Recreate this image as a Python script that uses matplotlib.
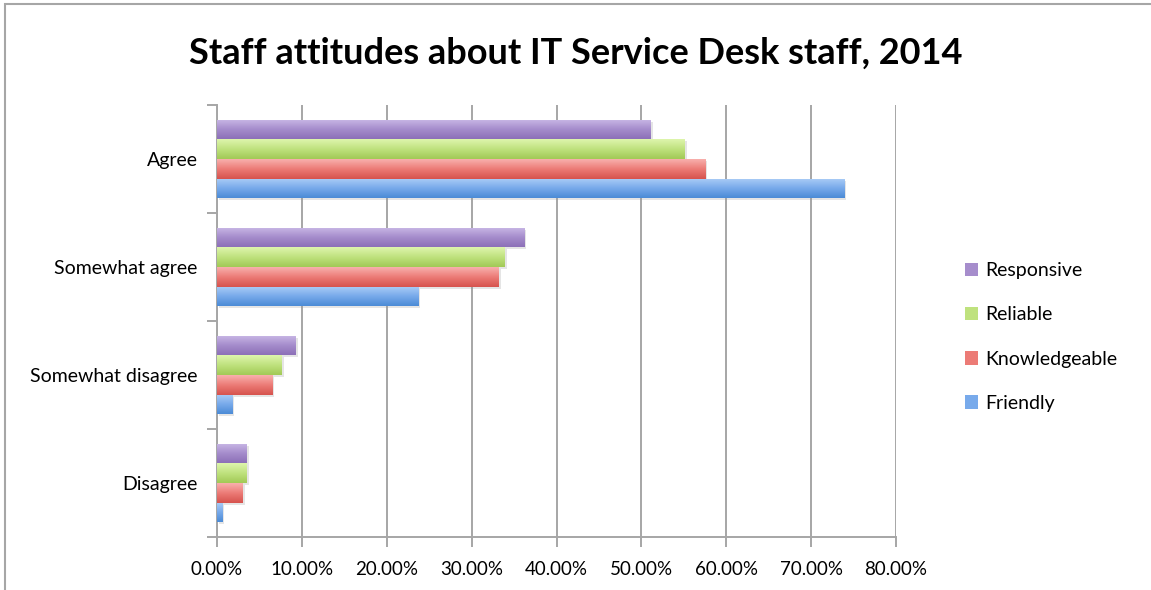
import matplotlib
matplotlib.use("Agg")
import matplotlib.pyplot as plt
import numpy as np
from matplotlib.colors import LinearSegmentedColormap
from matplotlib.patches import Patch, Rectangle
from matplotlib import patheffects as pe
from matplotlib.ticker import PercentFormatter, MultipleLocator, FixedLocator

plt.rcParams["font.family"] = ["Lato", "DejaVu Sans"]

categories = ["Agree", "Somewhat agree", "Somewhat disagree", "Disagree"]
series = ["Responsive", "Reliable", "Knowledgeable", "Friendly"]

responsive = [51.1, 36.2, 9.3, 3.5]
reliable = [55.1, 33.9, 7.6, 3.5]
knowledgeable = [57.5, 33.2, 6.5, 3.0]
friendly = [73.9, 23.7, 1.8, 0.6]

# (top, middle, bottom) shades for the vertical gradient on each bar
shades = {
    "Responsive": ("#c9b8e6", "#a68dcc", "#8c70b8"),
    "Reliable": ("#def5ad", "#bfe27e", "#a2c956"),
    "Knowledgeable": ("#f8b0ad", "#ec7b76", "#d6534e"),
    "Friendly": ("#abcdf6", "#78aaeb", "#4b8bd6"),
}

values = {"Responsive": responsive, "Reliable": reliable,
          "Knowledgeable": knowledgeable, "Friendly": friendly}

fig = plt.figure(figsize=(11.51, 5.90), dpi=100)
ax = fig.add_axes([217 / 1151, 1 - 537 / 590, (896 - 217) / 1151, (537 - 105) / 590])

n = len(categories)
ypos = np.arange(n)[::-1]  # Agree on top
h = 0.1815
offsets = {"Responsive": 1.5 * h, "Reliable": 0.5 * h,
           "Knowledgeable": -0.5 * h, "Friendly": -1.5 * h}

grad = np.linspace(0, 1, 64).reshape(-1, 1)
for name in series:
    top, mid, bot = shades[name]
    cmap = LinearSegmentedColormap.from_list(name, [bot, mid, top])
    bars = ax.barh(ypos + offsets[name], values[name], height=h,
                   color=mid, edgecolor="none", zorder=3,
                   path_effects=[pe.SimplePatchShadow(offset=(1.5, -1.5),
                                                      shadow_rgbFace="#999999",
                                                      alpha=0.25),
                                 pe.Normal()])
    for bar in bars:
        x0, y0 = bar.get_x(), bar.get_y()
        w, hh = bar.get_width(), bar.get_height()
        im = ax.imshow(grad, cmap=cmap, aspect="auto", origin="lower",
                       extent=(x0, x0 + w, y0, y0 + hh), zorder=4,
                       interpolation="bicubic")
        im.set_clip_path(bar)

ax.set_xlim(0, 80)
ax.set_ylim(-0.5, n - 0.5)
ax.xaxis.set_major_locator(MultipleLocator(10))
ax.xaxis.set_major_formatter(PercentFormatter(decimals=2))
ax.grid(axis="x", color="#a6a6a6", lw=1.4, zorder=0)
ax.set_axisbelow(True)

ax.set_yticks(ypos)
ax.set_yticklabels(categories)
ax.yaxis.set_minor_locator(FixedLocator(np.arange(-0.5, n, 1.0)))
ax.tick_params(axis="y", which="major", length=0, pad=14, labelsize=14)
ax.tick_params(axis="y", which="minor", length=7, width=1.4, color="#a6a6a6")
ax.tick_params(axis="x", length=7, width=1.4, color="#a6a6a6", pad=10,
               labelsize=13.5)

for side in ("top", "right"):
    ax.spines[side].set_visible(False)
for side in ("left", "bottom"):
    ax.spines[side].set_color("#a6a6a6")
    ax.spines[side].set_linewidth(1.4)

fig.suptitle("Staff attitudes about IT Service Desk staff, 2014",
             x=0.5, y=1 - 53 / 590, va="center", fontsize=26, fontweight="bold")

handles = [Patch(facecolor=shades[s][1], edgecolor="none") for s in series]
fig.legend(handles, series, loc="center left",
           bbox_to_anchor=(947 / 1151, 1 - 337 / 590), frameon=False,
           fontsize=14, handlelength=0.7, handleheight=0.7,
           handletextpad=0.35, labelspacing=1.4)

# chart frame; only its top and left edges fall inside the image
fig.patches.append(Rectangle((4.5 / 1151, -0.1), 1.2, 1.1 - 4.5 / 590,
                             transform=fig.transFigure, fill=False,
                             edgecolor="#a6a6a6", lw=1.5))

fig.savefig("out.png", dpi=100)
